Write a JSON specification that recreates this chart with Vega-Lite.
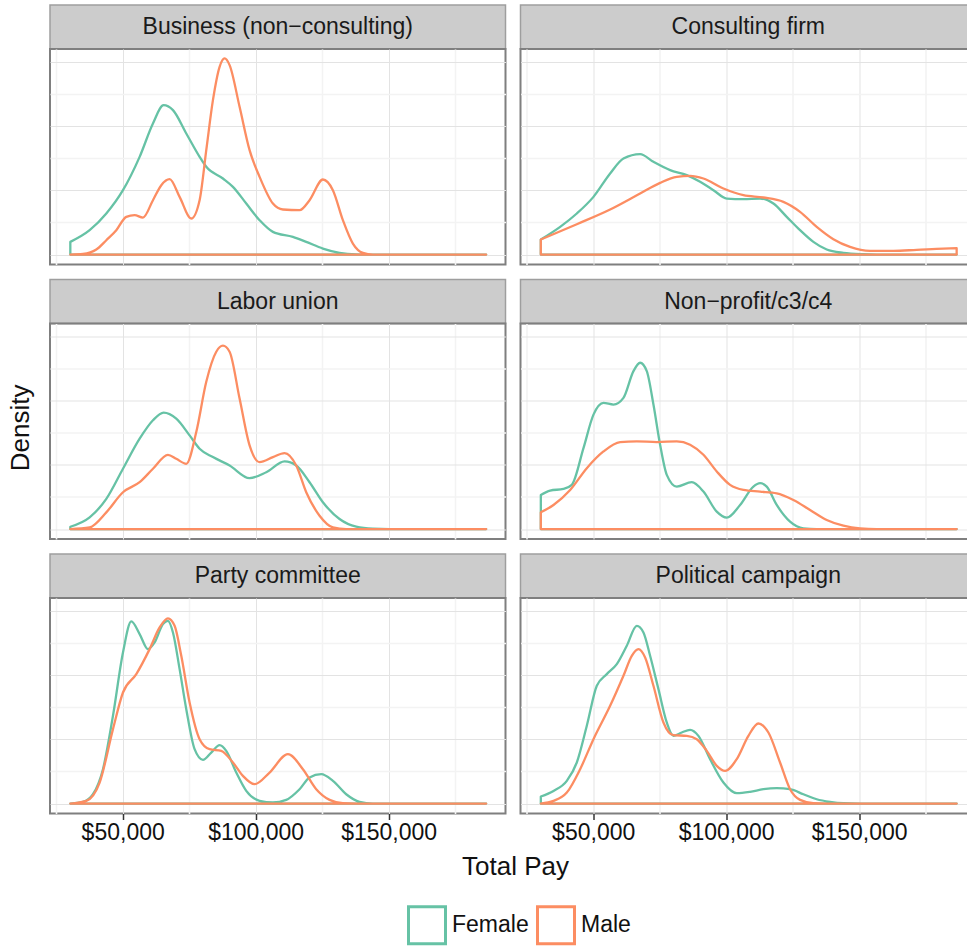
{
  "$schema": "https://vega.github.io/schema/vega-lite/v6.json",
  "padding": {"left": 7, "top": 4, "right": 0, "bottom": 0},
  "config": {
    "font": "Liberation Sans",
    "view": {"stroke": null},
    "title": {"font": "Liberation Sans", "fontWeight": "normal", "fontSize": 26, "color": "#111111"}
  },
  "datasets": {
    "panels": [
      {"org": "Business (non−consulting)"},
      {"org": "Consulting firm"},
      {"org": "Labor union"},
      {"org": "Non−profit/c3/c4"},
      {"org": "Party committee"},
      {"org": "Political campaign"}
    ],
    "curves": [
      {"org": "Business (non−consulting)", "sex": "Female", "pay": 30312, "density": 0.197},
      {"org": "Business (non−consulting)", "sex": "Female", "pay": 37580, "density": 0.379},
      {"org": "Business (non−consulting)", "sex": "Female", "pay": 43844, "density": 0.639},
      {"org": "Business (non−consulting)", "sex": "Female", "pay": 50110, "density": 1.002},
      {"org": "Business (non−consulting)", "sex": "Female", "pay": 56374, "density": 1.521},
      {"org": "Business (non−consulting)", "sex": "Female", "pay": 61386, "density": 2.040},
      {"org": "Business (non−consulting)", "sex": "Female", "pay": 65396, "density": 2.326},
      {"org": "Business (non−consulting)", "sex": "Female", "pay": 68904, "density": 2.248},
      {"org": "Business (non−consulting)", "sex": "Female", "pay": 73916, "density": 1.885},
      {"org": "Business (non−consulting)", "sex": "Female", "pay": 78928, "density": 1.521},
      {"org": "Business (non−consulting)", "sex": "Female", "pay": 81434, "density": 1.366},
      {"org": "Business (non−consulting)", "sex": "Female", "pay": 87700, "density": 1.184},
      {"org": "Business (non−consulting)", "sex": "Female", "pay": 91459, "density": 1.054},
      {"org": "Business (non−consulting)", "sex": "Female", "pay": 96471, "density": 0.794},
      {"org": "Business (non−consulting)", "sex": "Female", "pay": 101483, "density": 0.535},
      {"org": "Business (non−consulting)", "sex": "Female", "pay": 106495, "density": 0.353},
      {"org": "Business (non−consulting)", "sex": "Female", "pay": 114013, "density": 0.275},
      {"org": "Business (non−consulting)", "sex": "Female", "pay": 119025, "density": 0.197},
      {"org": "Business (non−consulting)", "sex": "Female", "pay": 125290, "density": 0.093},
      {"org": "Business (non−consulting)", "sex": "Female", "pay": 131555, "density": 0.026},
      {"org": "Business (non−consulting)", "sex": "Female", "pay": 137820, "density": 0.003},
      {"org": "Business (non−consulting)", "sex": "Female", "pay": 144085, "density": 0},
      {"org": "Business (non−consulting)", "sex": "Female", "pay": 186687, "density": 0},

      {"org": "Business (non−consulting)", "sex": "Male", "pay": 30312, "density": 0},
      {"org": "Business (non−consulting)", "sex": "Male", "pay": 35073, "density": 0.01},
      {"org": "Business (non−consulting)", "sex": "Male", "pay": 40085, "density": 0.078},
      {"org": "Business (non−consulting)", "sex": "Male", "pay": 43844, "density": 0.223},
      {"org": "Business (non−consulting)", "sex": "Male", "pay": 47603, "density": 0.379},
      {"org": "Business (non−consulting)", "sex": "Male", "pay": 51362, "density": 0.587},
      {"org": "Business (non−consulting)", "sex": "Male", "pay": 54495, "density": 0.613},
      {"org": "Business (non−consulting)", "sex": "Male", "pay": 57627, "density": 0.576},
      {"org": "Business (non−consulting)", "sex": "Male", "pay": 61386, "density": 0.846},
      {"org": "Business (non−consulting)", "sex": "Male", "pay": 64519, "density": 1.080},
      {"org": "Business (non−consulting)", "sex": "Male", "pay": 67651, "density": 1.173},
      {"org": "Business (non−consulting)", "sex": "Male", "pay": 71410, "density": 0.898},
      {"org": "Business (non−consulting)", "sex": "Male", "pay": 75796, "density": 0.561},
      {"org": "Business (non−consulting)", "sex": "Male", "pay": 78928, "density": 0.846},
      {"org": "Business (non−consulting)", "sex": "Male", "pay": 81434, "density": 1.625},
      {"org": "Business (non−consulting)", "sex": "Male", "pay": 83940, "density": 2.404},
      {"org": "Business (non−consulting)", "sex": "Male", "pay": 86446, "density": 2.923},
      {"org": "Business (non−consulting)", "sex": "Male", "pay": 88325, "density": 3.053},
      {"org": "Business (non−consulting)", "sex": "Male", "pay": 90205, "density": 2.949},
      {"org": "Business (non−consulting)", "sex": "Male", "pay": 93964, "density": 2.300},
      {"org": "Business (non−consulting)", "sex": "Male", "pay": 97723, "density": 1.625},
      {"org": "Business (non−consulting)", "sex": "Male", "pay": 101483, "density": 1.210},
      {"org": "Business (non−consulting)", "sex": "Male", "pay": 106495, "density": 0.794},
      {"org": "Business (non−consulting)", "sex": "Male", "pay": 110254, "density": 0.701},
      {"org": "Business (non−consulting)", "sex": "Male", "pay": 116519, "density": 0.691},
      {"org": "Business (non−consulting)", "sex": "Male", "pay": 120278, "density": 0.846},
      {"org": "Business (non−consulting)", "sex": "Male", "pay": 125290, "density": 1.168},
      {"org": "Business (non−consulting)", "sex": "Male", "pay": 129049, "density": 1.002},
      {"org": "Business (non−consulting)", "sex": "Male", "pay": 132808, "density": 0.535},
      {"org": "Business (non−consulting)", "sex": "Male", "pay": 136567, "density": 0.171},
      {"org": "Business (non−consulting)", "sex": "Male", "pay": 140326, "density": 0.026},
      {"org": "Business (non−consulting)", "sex": "Male", "pay": 144085, "density": 0},
      {"org": "Business (non−consulting)", "sex": "Male", "pay": 186687, "density": 0},

      {"org": "Consulting firm", "sex": "Female", "pay": 30312, "density": 0.234},
      {"org": "Consulting firm", "sex": "Female", "pay": 37580, "density": 0.431},
      {"org": "Consulting firm", "sex": "Female", "pay": 43844, "density": 0.639},
      {"org": "Consulting firm", "sex": "Female", "pay": 50110, "density": 0.898},
      {"org": "Consulting firm", "sex": "Female", "pay": 56374, "density": 1.262},
      {"org": "Consulting firm", "sex": "Female", "pay": 61386, "density": 1.495},
      {"org": "Consulting firm", "sex": "Female", "pay": 67651, "density": 1.563},
      {"org": "Consulting firm", "sex": "Female", "pay": 72663, "density": 1.443},
      {"org": "Consulting firm", "sex": "Female", "pay": 78928, "density": 1.314},
      {"org": "Consulting firm", "sex": "Female", "pay": 85193, "density": 1.236},
      {"org": "Consulting firm", "sex": "Female", "pay": 90205, "density": 1.132},
      {"org": "Consulting firm", "sex": "Female", "pay": 95217, "density": 1.002},
      {"org": "Consulting firm", "sex": "Female", "pay": 100229, "density": 0.872},
      {"org": "Consulting firm", "sex": "Female", "pay": 106495, "density": 0.862},
      {"org": "Consulting firm", "sex": "Female", "pay": 112760, "density": 0.872},
      {"org": "Consulting firm", "sex": "Female", "pay": 117772, "density": 0.794},
      {"org": "Consulting firm", "sex": "Female", "pay": 122784, "density": 0.587},
      {"org": "Consulting firm", "sex": "Female", "pay": 127796, "density": 0.379},
      {"org": "Consulting firm", "sex": "Female", "pay": 132808, "density": 0.197},
      {"org": "Consulting firm", "sex": "Female", "pay": 137820, "density": 0.078},
      {"org": "Consulting firm", "sex": "Female", "pay": 144085, "density": 0.026},
      {"org": "Consulting firm", "sex": "Female", "pay": 151603, "density": 0.005},
      {"org": "Consulting firm", "sex": "Female", "pay": 156616, "density": 0},
      {"org": "Consulting firm", "sex": "Female", "pay": 186687, "density": 0},

      {"org": "Consulting firm", "sex": "Male", "pay": 30312, "density": 0.234},
      {"org": "Consulting firm", "sex": "Male", "pay": 43844, "density": 0.472},
      {"org": "Consulting firm", "sex": "Male", "pay": 56374, "density": 0.701},
      {"org": "Consulting firm", "sex": "Male", "pay": 67651, "density": 0.950},
      {"org": "Consulting firm", "sex": "Male", "pay": 75169, "density": 1.116},
      {"org": "Consulting firm", "sex": "Male", "pay": 81434, "density": 1.210},
      {"org": "Consulting firm", "sex": "Male", "pay": 86446, "density": 1.225},
      {"org": "Consulting firm", "sex": "Male", "pay": 91459, "density": 1.184},
      {"org": "Consulting firm", "sex": "Male", "pay": 98977, "density": 1.028},
      {"org": "Consulting firm", "sex": "Male", "pay": 106495, "density": 0.924},
      {"org": "Consulting firm", "sex": "Male", "pay": 114013, "density": 0.888},
      {"org": "Consulting firm", "sex": "Male", "pay": 121531, "density": 0.820},
      {"org": "Consulting firm", "sex": "Male", "pay": 127796, "density": 0.665},
      {"org": "Consulting firm", "sex": "Male", "pay": 134061, "density": 0.431},
      {"org": "Consulting firm", "sex": "Male", "pay": 140326, "density": 0.239},
      {"org": "Consulting firm", "sex": "Male", "pay": 146591, "density": 0.119},
      {"org": "Consulting firm", "sex": "Male", "pay": 154109, "density": 0.057},
      {"org": "Consulting firm", "sex": "Male", "pay": 162880, "density": 0.057},
      {"org": "Consulting firm", "sex": "Male", "pay": 171651, "density": 0.073},
      {"org": "Consulting firm", "sex": "Male", "pay": 181675, "density": 0.093},
      {"org": "Consulting firm", "sex": "Male", "pay": 186687, "density": 0.099},

      {"org": "Labor union", "sex": "Female", "pay": 30312, "density": 0.036},
      {"org": "Labor union", "sex": "Female", "pay": 37580, "density": 0.182},
      {"org": "Labor union", "sex": "Female", "pay": 43844, "density": 0.469},
      {"org": "Labor union", "sex": "Female", "pay": 50110, "density": 0.938},
      {"org": "Labor union", "sex": "Female", "pay": 56374, "density": 1.406},
      {"org": "Labor union", "sex": "Female", "pay": 61386, "density": 1.693},
      {"org": "Labor union", "sex": "Female", "pay": 65396, "density": 1.813},
      {"org": "Labor union", "sex": "Female", "pay": 70157, "density": 1.719},
      {"org": "Labor union", "sex": "Female", "pay": 75169, "density": 1.458},
      {"org": "Labor union", "sex": "Female", "pay": 78928, "density": 1.250},
      {"org": "Labor union", "sex": "Female", "pay": 83940, "density": 1.120},
      {"org": "Labor union", "sex": "Female", "pay": 90205, "density": 0.990},
      {"org": "Labor union", "sex": "Female", "pay": 97723, "density": 0.792},
      {"org": "Labor union", "sex": "Female", "pay": 103988, "density": 0.885},
      {"org": "Labor union", "sex": "Female", "pay": 110880, "density": 1.052},
      {"org": "Labor union", "sex": "Female", "pay": 115265, "density": 0.990},
      {"org": "Labor union", "sex": "Female", "pay": 120278, "density": 0.729},
      {"org": "Labor union", "sex": "Female", "pay": 125290, "density": 0.417},
      {"org": "Labor union", "sex": "Female", "pay": 131555, "density": 0.156},
      {"org": "Labor union", "sex": "Female", "pay": 137820, "density": 0.036},
      {"org": "Labor union", "sex": "Female", "pay": 144085, "density": 0.005},
      {"org": "Labor union", "sex": "Female", "pay": 150350, "density": 0},
      {"org": "Labor union", "sex": "Female", "pay": 186687, "density": 0},

      {"org": "Labor union", "sex": "Male", "pay": 30312, "density": 0},
      {"org": "Labor union", "sex": "Male", "pay": 37580, "density": 0.026},
      {"org": "Labor union", "sex": "Male", "pay": 43844, "density": 0.260},
      {"org": "Labor union", "sex": "Male", "pay": 50110, "density": 0.573},
      {"org": "Labor union", "sex": "Male", "pay": 56374, "density": 0.729},
      {"org": "Labor union", "sex": "Male", "pay": 61386, "density": 0.938},
      {"org": "Labor union", "sex": "Male", "pay": 67025, "density": 1.156},
      {"org": "Labor union", "sex": "Male", "pay": 70157, "density": 1.094},
      {"org": "Labor union", "sex": "Male", "pay": 73916, "density": 1.016},
      {"org": "Labor union", "sex": "Male", "pay": 77675, "density": 1.510},
      {"org": "Labor union", "sex": "Male", "pay": 81434, "density": 2.292},
      {"org": "Labor union", "sex": "Male", "pay": 85193, "density": 2.760},
      {"org": "Labor union", "sex": "Male", "pay": 87700, "density": 2.854},
      {"org": "Labor union", "sex": "Male", "pay": 90205, "density": 2.760},
      {"org": "Labor union", "sex": "Male", "pay": 93964, "density": 2.031},
      {"org": "Labor union", "sex": "Male", "pay": 97723, "density": 1.302},
      {"org": "Labor union", "sex": "Male", "pay": 101483, "density": 1.042},
      {"org": "Labor union", "sex": "Male", "pay": 106495, "density": 1.120},
      {"org": "Labor union", "sex": "Male", "pay": 110880, "density": 1.182},
      {"org": "Labor union", "sex": "Male", "pay": 115265, "density": 0.990},
      {"org": "Labor union", "sex": "Male", "pay": 119025, "density": 0.573},
      {"org": "Labor union", "sex": "Male", "pay": 124037, "density": 0.208},
      {"org": "Labor union", "sex": "Male", "pay": 129049, "density": 0.026},
      {"org": "Labor union", "sex": "Male", "pay": 134061, "density": 0},
      {"org": "Labor union", "sex": "Male", "pay": 186687, "density": 0},

      {"org": "Non−profit/c3/c4", "sex": "Female", "pay": 30312, "density": 0.531},
      {"org": "Non−profit/c3/c4", "sex": "Female", "pay": 33820, "density": 0.599},
      {"org": "Non−profit/c3/c4", "sex": "Female", "pay": 38832, "density": 0.625},
      {"org": "Non−profit/c3/c4", "sex": "Female", "pay": 41965, "density": 0.688},
      {"org": "Non−profit/c3/c4", "sex": "Female", "pay": 46350, "density": 1.260},
      {"org": "Non−profit/c3/c4", "sex": "Female", "pay": 50110, "density": 1.781},
      {"org": "Non−profit/c3/c4", "sex": "Female", "pay": 53869, "density": 1.964},
      {"org": "Non−profit/c3/c4", "sex": "Female", "pay": 57627, "density": 1.938},
      {"org": "Non−profit/c3/c4", "sex": "Female", "pay": 61386, "density": 2.042},
      {"org": "Non−profit/c3/c4", "sex": "Female", "pay": 65145, "density": 2.458},
      {"org": "Non−profit/c3/c4", "sex": "Female", "pay": 67651, "density": 2.589},
      {"org": "Non−profit/c3/c4", "sex": "Female", "pay": 70157, "density": 2.458},
      {"org": "Non−profit/c3/c4", "sex": "Female", "pay": 72663, "density": 1.938},
      {"org": "Non−profit/c3/c4", "sex": "Female", "pay": 75169, "density": 1.313},
      {"org": "Non−profit/c3/c4", "sex": "Female", "pay": 77675, "density": 0.844},
      {"org": "Non−profit/c3/c4", "sex": "Female", "pay": 81434, "density": 0.661},
      {"org": "Non−profit/c3/c4", "sex": "Female", "pay": 87073, "density": 0.729},
      {"org": "Non−profit/c3/c4", "sex": "Female", "pay": 91459, "density": 0.583},
      {"org": "Non−profit/c3/c4", "sex": "Female", "pay": 96471, "density": 0.271},
      {"org": "Non−profit/c3/c4", "sex": "Female", "pay": 100229, "density": 0.177},
      {"org": "Non−profit/c3/c4", "sex": "Female", "pay": 105241, "density": 0.375},
      {"org": "Non−profit/c3/c4", "sex": "Female", "pay": 110254, "density": 0.661},
      {"org": "Non−profit/c3/c4", "sex": "Female", "pay": 112760, "density": 0.714},
      {"org": "Non−profit/c3/c4", "sex": "Female", "pay": 115265, "density": 0.661},
      {"org": "Non−profit/c3/c4", "sex": "Female", "pay": 119025, "density": 0.375},
      {"org": "Non−profit/c3/c4", "sex": "Female", "pay": 124037, "density": 0.115},
      {"org": "Non−profit/c3/c4", "sex": "Female", "pay": 129049, "density": 0.010},
      {"org": "Non−profit/c3/c4", "sex": "Female", "pay": 134061, "density": 0},
      {"org": "Non−profit/c3/c4", "sex": "Female", "pay": 186687, "density": 0},

      {"org": "Non−profit/c3/c4", "sex": "Male", "pay": 30312, "density": 0.260},
      {"org": "Non−profit/c3/c4", "sex": "Male", "pay": 35073, "density": 0.375},
      {"org": "Non−profit/c3/c4", "sex": "Male", "pay": 41339, "density": 0.609},
      {"org": "Non−profit/c3/c4", "sex": "Male", "pay": 47603, "density": 0.948},
      {"org": "Non−profit/c3/c4", "sex": "Male", "pay": 53869, "density": 1.208},
      {"org": "Non−profit/c3/c4", "sex": "Male", "pay": 60134, "density": 1.354},
      {"org": "Non−profit/c3/c4", "sex": "Male", "pay": 66399, "density": 1.365},
      {"org": "Non−profit/c3/c4", "sex": "Male", "pay": 73916, "density": 1.354},
      {"org": "Non−profit/c3/c4", "sex": "Male", "pay": 81434, "density": 1.365},
      {"org": "Non−profit/c3/c4", "sex": "Male", "pay": 86446, "density": 1.313},
      {"org": "Non−profit/c3/c4", "sex": "Male", "pay": 91459, "density": 1.156},
      {"org": "Non−profit/c3/c4", "sex": "Male", "pay": 96471, "density": 0.896},
      {"org": "Non−profit/c3/c4", "sex": "Male", "pay": 101483, "density": 0.688},
      {"org": "Non−profit/c3/c4", "sex": "Male", "pay": 106495, "density": 0.609},
      {"org": "Non−profit/c3/c4", "sex": "Male", "pay": 112760, "density": 0.583},
      {"org": "Non−profit/c3/c4", "sex": "Male", "pay": 119025, "density": 0.557},
      {"org": "Non−profit/c3/c4", "sex": "Male", "pay": 125290, "density": 0.453},
      {"org": "Non−profit/c3/c4", "sex": "Male", "pay": 131555, "density": 0.297},
      {"org": "Non−profit/c3/c4", "sex": "Male", "pay": 137820, "density": 0.141},
      {"org": "Non−profit/c3/c4", "sex": "Male", "pay": 144085, "density": 0.052},
      {"org": "Non−profit/c3/c4", "sex": "Male", "pay": 150350, "density": 0.010},
      {"org": "Non−profit/c3/c4", "sex": "Male", "pay": 156616, "density": 0},
      {"org": "Non−profit/c3/c4", "sex": "Male", "pay": 186687, "density": 0},

      {"org": "Party committee", "sex": "Female", "pay": 30312, "density": 0},
      {"org": "Party committee", "sex": "Female", "pay": 35073, "density": 0.026},
      {"org": "Party committee", "sex": "Female", "pay": 38832, "density": 0.145},
      {"org": "Party committee", "sex": "Female", "pay": 42591, "density": 0.535},
      {"org": "Party committee", "sex": "Female", "pay": 46350, "density": 1.366},
      {"org": "Party committee", "sex": "Female", "pay": 50110, "density": 2.352},
      {"org": "Party committee", "sex": "Female", "pay": 53242, "density": 2.835},
      {"org": "Party committee", "sex": "Female", "pay": 56374, "density": 2.638},
      {"org": "Party committee", "sex": "Female", "pay": 59507, "density": 2.404},
      {"org": "Party committee", "sex": "Female", "pay": 62013, "density": 2.508},
      {"org": "Party committee", "sex": "Female", "pay": 65145, "density": 2.793},
      {"org": "Party committee", "sex": "Female", "pay": 67025, "density": 2.845},
      {"org": "Party committee", "sex": "Female", "pay": 68904, "density": 2.664},
      {"org": "Party committee", "sex": "Female", "pay": 71410, "density": 2.092},
      {"org": "Party committee", "sex": "Female", "pay": 73916, "density": 1.469},
      {"org": "Party committee", "sex": "Female", "pay": 77048, "density": 0.846},
      {"org": "Party committee", "sex": "Female", "pay": 80180, "density": 0.680},
      {"org": "Party committee", "sex": "Female", "pay": 83313, "density": 0.794},
      {"org": "Party committee", "sex": "Female", "pay": 86446, "density": 0.909},
      {"org": "Party committee", "sex": "Female", "pay": 88951, "density": 0.820},
      {"org": "Party committee", "sex": "Female", "pay": 92710, "density": 0.483},
      {"org": "Party committee", "sex": "Female", "pay": 96471, "density": 0.197},
      {"org": "Party committee", "sex": "Female", "pay": 101483, "density": 0.042},
      {"org": "Party committee", "sex": "Female", "pay": 106495, "density": 0.016},
      {"org": "Party committee", "sex": "Female", "pay": 111507, "density": 0.057},
      {"org": "Party committee", "sex": "Female", "pay": 116519, "density": 0.223},
      {"org": "Party committee", "sex": "Female", "pay": 120278, "density": 0.405},
      {"org": "Party committee", "sex": "Female", "pay": 124663, "density": 0.457},
      {"org": "Party committee", "sex": "Female", "pay": 129049, "density": 0.353},
      {"org": "Party committee", "sex": "Female", "pay": 134061, "density": 0.145},
      {"org": "Party committee", "sex": "Female", "pay": 139073, "density": 0.026},
      {"org": "Party committee", "sex": "Female", "pay": 144085, "density": 0},
      {"org": "Party committee", "sex": "Female", "pay": 186687, "density": 0},

      {"org": "Party committee", "sex": "Male", "pay": 30312, "density": 0},
      {"org": "Party committee", "sex": "Male", "pay": 36326, "density": 0.042},
      {"org": "Party committee", "sex": "Male", "pay": 41339, "density": 0.327},
      {"org": "Party committee", "sex": "Male", "pay": 46350, "density": 1.158},
      {"org": "Party committee", "sex": "Male", "pay": 50110, "density": 1.729},
      {"org": "Party committee", "sex": "Male", "pay": 55122, "density": 2.015},
      {"org": "Party committee", "sex": "Male", "pay": 60134, "density": 2.404},
      {"org": "Party committee", "sex": "Male", "pay": 63893, "density": 2.741},
      {"org": "Party committee", "sex": "Male", "pay": 67025, "density": 2.882},
      {"org": "Party committee", "sex": "Male", "pay": 69531, "density": 2.767},
      {"org": "Party committee", "sex": "Male", "pay": 72037, "density": 2.300},
      {"org": "Party committee", "sex": "Male", "pay": 75169, "density": 1.573},
      {"org": "Party committee", "sex": "Male", "pay": 78928, "density": 1.002},
      {"org": "Party committee", "sex": "Male", "pay": 82687, "density": 0.846},
      {"org": "Party committee", "sex": "Male", "pay": 87073, "density": 0.820},
      {"org": "Party committee", "sex": "Male", "pay": 91459, "density": 0.639},
      {"org": "Party committee", "sex": "Male", "pay": 95217, "density": 0.431},
      {"org": "Party committee", "sex": "Male", "pay": 99603, "density": 0.301},
      {"org": "Party committee", "sex": "Male", "pay": 105241, "density": 0.483},
      {"org": "Party committee", "sex": "Male", "pay": 112133, "density": 0.768},
      {"org": "Party committee", "sex": "Male", "pay": 117772, "density": 0.535},
      {"org": "Party committee", "sex": "Male", "pay": 122784, "density": 0.223},
      {"org": "Party committee", "sex": "Male", "pay": 127796, "density": 0.057},
      {"org": "Party committee", "sex": "Male", "pay": 132808, "density": 0.005},
      {"org": "Party committee", "sex": "Male", "pay": 137820, "density": 0},
      {"org": "Party committee", "sex": "Male", "pay": 186687, "density": 0},

      {"org": "Political campaign", "sex": "Female", "pay": 30312, "density": 0.109},
      {"org": "Political campaign", "sex": "Female", "pay": 35073, "density": 0.197},
      {"org": "Political campaign", "sex": "Female", "pay": 40085, "density": 0.353},
      {"org": "Political campaign", "sex": "Female", "pay": 43844, "density": 0.639},
      {"org": "Political campaign", "sex": "Female", "pay": 47603, "density": 1.210},
      {"org": "Political campaign", "sex": "Female", "pay": 51362, "density": 1.833},
      {"org": "Political campaign", "sex": "Female", "pay": 55122, "density": 2.015},
      {"org": "Political campaign", "sex": "Female", "pay": 58881, "density": 2.170},
      {"org": "Political campaign", "sex": "Female", "pay": 62640, "density": 2.456},
      {"org": "Political campaign", "sex": "Female", "pay": 66399, "density": 2.767},
      {"org": "Political campaign", "sex": "Female", "pay": 68904, "density": 2.664},
      {"org": "Political campaign", "sex": "Female", "pay": 71410, "density": 2.300},
      {"org": "Political campaign", "sex": "Female", "pay": 74543, "density": 1.781},
      {"org": "Political campaign", "sex": "Female", "pay": 77675, "density": 1.262},
      {"org": "Political campaign", "sex": "Female", "pay": 80180, "density": 1.054},
      {"org": "Political campaign", "sex": "Female", "pay": 83313, "density": 1.106},
      {"org": "Political campaign", "sex": "Female", "pay": 86446, "density": 1.147},
      {"org": "Political campaign", "sex": "Female", "pay": 89578, "density": 1.054},
      {"org": "Political campaign", "sex": "Female", "pay": 93964, "density": 0.691},
      {"org": "Political campaign", "sex": "Female", "pay": 98977, "density": 0.327},
      {"org": "Political campaign", "sex": "Female", "pay": 103988, "density": 0.161},
      {"org": "Political campaign", "sex": "Female", "pay": 109000, "density": 0.182},
      {"org": "Political campaign", "sex": "Female", "pay": 114013, "density": 0.223},
      {"org": "Political campaign", "sex": "Female", "pay": 119025, "density": 0.239},
      {"org": "Political campaign", "sex": "Female", "pay": 124037, "density": 0.223},
      {"org": "Political campaign", "sex": "Female", "pay": 129049, "density": 0.145},
      {"org": "Political campaign", "sex": "Female", "pay": 134061, "density": 0.067},
      {"org": "Political campaign", "sex": "Female", "pay": 139073, "density": 0.026},
      {"org": "Political campaign", "sex": "Female", "pay": 144085, "density": 0.005},
      {"org": "Political campaign", "sex": "Female", "pay": 150350, "density": 0},
      {"org": "Political campaign", "sex": "Female", "pay": 186687, "density": 0},

      {"org": "Political campaign", "sex": "Male", "pay": 30312, "density": 0},
      {"org": "Political campaign", "sex": "Male", "pay": 35073, "density": 0.042},
      {"org": "Political campaign", "sex": "Male", "pay": 40085, "density": 0.171},
      {"org": "Political campaign", "sex": "Male", "pay": 45097, "density": 0.535},
      {"org": "Political campaign", "sex": "Male", "pay": 50110, "density": 1.002},
      {"org": "Political campaign", "sex": "Male", "pay": 56374, "density": 1.521},
      {"org": "Political campaign", "sex": "Male", "pay": 61386, "density": 1.989},
      {"org": "Political campaign", "sex": "Male", "pay": 64519, "density": 2.300},
      {"org": "Political campaign", "sex": "Male", "pay": 67025, "density": 2.404},
      {"org": "Political campaign", "sex": "Male", "pay": 69531, "density": 2.274},
      {"org": "Political campaign", "sex": "Male", "pay": 72663, "density": 1.833},
      {"org": "Political campaign", "sex": "Male", "pay": 76422, "density": 1.262},
      {"org": "Political campaign", "sex": "Male", "pay": 80180, "density": 1.064},
      {"org": "Political campaign", "sex": "Male", "pay": 85193, "density": 1.054},
      {"org": "Political campaign", "sex": "Male", "pay": 88951, "density": 1.002},
      {"org": "Political campaign", "sex": "Male", "pay": 92710, "density": 0.820},
      {"org": "Political campaign", "sex": "Male", "pay": 96471, "density": 0.587},
      {"org": "Political campaign", "sex": "Male", "pay": 99603, "density": 0.509},
      {"org": "Political campaign", "sex": "Male", "pay": 103988, "density": 0.691},
      {"org": "Political campaign", "sex": "Male", "pay": 108374, "density": 1.054},
      {"org": "Political campaign", "sex": "Male", "pay": 112133, "density": 1.246},
      {"org": "Political campaign", "sex": "Male", "pay": 115892, "density": 1.106},
      {"org": "Political campaign", "sex": "Male", "pay": 120278, "density": 0.639},
      {"org": "Political campaign", "sex": "Male", "pay": 124037, "density": 0.223},
      {"org": "Political campaign", "sex": "Male", "pay": 127796, "density": 0.057},
      {"org": "Political campaign", "sex": "Male", "pay": 132808, "density": 0.005},
      {"org": "Political campaign", "sex": "Male", "pay": 137820, "density": 0},
      {"org": "Political campaign", "sex": "Male", "pay": 186687, "density": 0}
    ]
  },
  "vconcat": [
    {
      "title": {"text": "Total Pay", "orient": "bottom", "anchor": "middle", "offset": 8, "dx": 23},
      "vconcat": [
        {
          "title": {"text": "Density", "orient": "left", "anchor": "middle", "offset": 15, "dx": -3},
          "spacing": 12.5,
          "vconcat": [
            {
              "spacing": 12.5,
              "hconcat": [
                {
                  "spacing": 0, "bounds": "flush",
                  "vconcat": [
                    {"width": 455.5, "height": 44, "view": {"fill": "#cccccc", "stroke": "#9e9e9e", "strokeWidth": 1.5}, "data": {"name": "panels"}, "transform": [{"filter": "datum.org === 'Business (non−consulting)'"}], "mark": {"type": "text", "fontSize": 23, "color": "#1a1a1a", "align": "center", "baseline": "middle"}, "encoding": {"text": {"field": "org", "type": "nominal"}}},
                    {"width": 455.5, "height": 215.5, "view": {"stroke": "#7f7f7f", "strokeWidth": 2}, "data": {"name": "curves"}, "transform": [{"filter": "datum.org === 'Business (non−consulting)'"}],
                     "mark": {"type": "area", "filled": false, "strokeWidth": 2.3, "interpolate": "monotone", "strokeJoin": "round"},
                     "encoding": {
                       "x": {"field": "pay", "type": "quantitative", "scale": {"domain": [22670, 193960], "nice": false, "zero": false}, "axis": {"values": [25000, 50000, 75000, 100000, 125000, 150000, 175000], "grid": true, "labels": false, "ticks": false, "domain": false, "title": null, "gridColor": {"condition": {"test": "datum.value % 50000 === 0", "value": "#e3e3e3"}, "value": "#f3f3f3"}, "gridWidth": {"condition": {"test": "datum.value % 50000 === 0", "value": 1}, "value": 1.6}}},
                       "y": {"field": "density", "type": "quantitative", "stack": null, "scale": {"domain": [-0.155, 3.2], "nice": false, "zero": false}, "axis": {"values": [0, 0.5, 1, 1.5, 2, 2.5, 3], "grid": true, "labels": false, "ticks": false, "domain": false, "title": null, "gridColor": {"condition": {"test": "datum.value % 1 === 0", "value": "#e3e3e3"}, "value": "#f3f3f3"}, "gridWidth": {"condition": {"test": "datum.value % 1 === 0", "value": 1}, "value": 1.6}}},
                       "y2": {"datum": 0},
                       "color": {"field": "sex", "type": "nominal", "scale": {"domain": ["Female", "Male"], "range": ["#66c2a5", "#fc8d62"]}, "legend": {"orient": "none", "legendX": 357, "legendY": 900, "direction": "horizontal", "title": null, "symbolType": "square", "symbolSize": 1369, "symbolStrokeWidth": 3, "symbolFillColor": "#ffffff", "labelFontSize": 23, "labelColor": "#111111", "labelOffset": 5, "columnPadding": 2}}
                     }}
                  ]
                },
                {
                  "spacing": 0, "bounds": "flush",
                  "vconcat": [
                    {"width": 455.5, "height": 44, "view": {"fill": "#cccccc", "stroke": "#9e9e9e", "strokeWidth": 1.5}, "data": {"name": "panels"}, "transform": [{"filter": "datum.org === 'Consulting firm'"}], "mark": {"type": "text", "fontSize": 23, "color": "#1a1a1a", "align": "center", "baseline": "middle"}, "encoding": {"text": {"field": "org", "type": "nominal"}}},
                    {"width": 455.5, "height": 215.5, "view": {"stroke": "#7f7f7f", "strokeWidth": 2}, "data": {"name": "curves"}, "transform": [{"filter": "datum.org === 'Consulting firm'"}],
                     "mark": {"type": "area", "filled": false, "strokeWidth": 2.3, "interpolate": "monotone", "strokeJoin": "round"},
                     "encoding": {
                       "x": {"field": "pay", "type": "quantitative", "scale": {"domain": [22670, 193960], "nice": false, "zero": false}, "axis": {"values": [25000, 50000, 75000, 100000, 125000, 150000, 175000], "grid": true, "labels": false, "ticks": false, "domain": false, "title": null, "gridColor": {"condition": {"test": "datum.value % 50000 === 0", "value": "#e3e3e3"}, "value": "#f3f3f3"}, "gridWidth": {"condition": {"test": "datum.value % 50000 === 0", "value": 1}, "value": 1.6}}},
                       "y": {"field": "density", "type": "quantitative", "stack": null, "scale": {"domain": [-0.155, 3.2], "nice": false, "zero": false}, "axis": {"values": [0, 0.5, 1, 1.5, 2, 2.5, 3], "grid": true, "labels": false, "ticks": false, "domain": false, "title": null, "gridColor": {"condition": {"test": "datum.value % 1 === 0", "value": "#e3e3e3"}, "value": "#f3f3f3"}, "gridWidth": {"condition": {"test": "datum.value % 1 === 0", "value": 1}, "value": 1.6}}},
                       "y2": {"datum": 0},
                       "color": {"field": "sex", "type": "nominal", "scale": {"domain": ["Female", "Male"], "range": ["#66c2a5", "#fc8d62"]}, "legend": {"orient": "none", "legendX": 357, "legendY": 900, "direction": "horizontal", "title": null, "symbolType": "square", "symbolSize": 1369, "symbolStrokeWidth": 3, "symbolFillColor": "#ffffff", "labelFontSize": 23, "labelColor": "#111111", "labelOffset": 5, "columnPadding": 2}}
                     }}
                  ]
                }
              ]
            },
            {
              "spacing": 12.5,
              "hconcat": [
                {
                  "spacing": 0, "bounds": "flush",
                  "vconcat": [
                    {"width": 455.5, "height": 44, "view": {"fill": "#cccccc", "stroke": "#9e9e9e", "strokeWidth": 1.5}, "data": {"name": "panels"}, "transform": [{"filter": "datum.org === 'Labor union'"}], "mark": {"type": "text", "fontSize": 23, "color": "#1a1a1a", "align": "center", "baseline": "middle"}, "encoding": {"text": {"field": "org", "type": "nominal"}}},
                    {"width": 455.5, "height": 215.5, "view": {"stroke": "#7f7f7f", "strokeWidth": 2}, "data": {"name": "curves"}, "transform": [{"filter": "datum.org === 'Labor union'"}],
                     "mark": {"type": "area", "filled": false, "strokeWidth": 2.3, "interpolate": "monotone", "strokeJoin": "round"},
                     "encoding": {
                       "x": {"field": "pay", "type": "quantitative", "scale": {"domain": [22670, 193960], "nice": false, "zero": false}, "axis": {"values": [25000, 50000, 75000, 100000, 125000, 150000, 175000], "grid": true, "labels": false, "ticks": false, "domain": false, "title": null, "gridColor": {"condition": {"test": "datum.value % 50000 === 0", "value": "#e3e3e3"}, "value": "#f3f3f3"}, "gridWidth": {"condition": {"test": "datum.value % 50000 === 0", "value": 1}, "value": 1.6}}},
                       "y": {"field": "density", "type": "quantitative", "stack": null, "scale": {"domain": [-0.155, 3.2], "nice": false, "zero": false}, "axis": {"values": [0, 0.5, 1, 1.5, 2, 2.5, 3], "grid": true, "labels": false, "ticks": false, "domain": false, "title": null, "gridColor": {"condition": {"test": "datum.value % 1 === 0", "value": "#e3e3e3"}, "value": "#f3f3f3"}, "gridWidth": {"condition": {"test": "datum.value % 1 === 0", "value": 1}, "value": 1.6}}},
                       "y2": {"datum": 0},
                       "color": {"field": "sex", "type": "nominal", "scale": {"domain": ["Female", "Male"], "range": ["#66c2a5", "#fc8d62"]}, "legend": {"orient": "none", "legendX": 357, "legendY": 900, "direction": "horizontal", "title": null, "symbolType": "square", "symbolSize": 1369, "symbolStrokeWidth": 3, "symbolFillColor": "#ffffff", "labelFontSize": 23, "labelColor": "#111111", "labelOffset": 5, "columnPadding": 2}}
                     }}
                  ]
                },
                {
                  "spacing": 0, "bounds": "flush",
                  "vconcat": [
                    {"width": 455.5, "height": 44, "view": {"fill": "#cccccc", "stroke": "#9e9e9e", "strokeWidth": 1.5}, "data": {"name": "panels"}, "transform": [{"filter": "datum.org === 'Non−profit/c3/c4'"}], "mark": {"type": "text", "fontSize": 23, "color": "#1a1a1a", "align": "center", "baseline": "middle"}, "encoding": {"text": {"field": "org", "type": "nominal"}}},
                    {"width": 455.5, "height": 215.5, "view": {"stroke": "#7f7f7f", "strokeWidth": 2}, "data": {"name": "curves"}, "transform": [{"filter": "datum.org === 'Non−profit/c3/c4'"}],
                     "mark": {"type": "area", "filled": false, "strokeWidth": 2.3, "interpolate": "monotone", "strokeJoin": "round"},
                     "encoding": {
                       "x": {"field": "pay", "type": "quantitative", "scale": {"domain": [22670, 193960], "nice": false, "zero": false}, "axis": {"values": [25000, 50000, 75000, 100000, 125000, 150000, 175000], "grid": true, "labels": false, "ticks": false, "domain": false, "title": null, "gridColor": {"condition": {"test": "datum.value % 50000 === 0", "value": "#e3e3e3"}, "value": "#f3f3f3"}, "gridWidth": {"condition": {"test": "datum.value % 50000 === 0", "value": 1}, "value": 1.6}}},
                       "y": {"field": "density", "type": "quantitative", "stack": null, "scale": {"domain": [-0.155, 3.2], "nice": false, "zero": false}, "axis": {"values": [0, 0.5, 1, 1.5, 2, 2.5, 3], "grid": true, "labels": false, "ticks": false, "domain": false, "title": null, "gridColor": {"condition": {"test": "datum.value % 1 === 0", "value": "#e3e3e3"}, "value": "#f3f3f3"}, "gridWidth": {"condition": {"test": "datum.value % 1 === 0", "value": 1}, "value": 1.6}}},
                       "y2": {"datum": 0},
                       "color": {"field": "sex", "type": "nominal", "scale": {"domain": ["Female", "Male"], "range": ["#66c2a5", "#fc8d62"]}, "legend": {"orient": "none", "legendX": 357, "legendY": 900, "direction": "horizontal", "title": null, "symbolType": "square", "symbolSize": 1369, "symbolStrokeWidth": 3, "symbolFillColor": "#ffffff", "labelFontSize": 23, "labelColor": "#111111", "labelOffset": 5, "columnPadding": 2}}
                     }}
                  ]
                }
              ]
            },
            {
              "spacing": 12.5,
              "hconcat": [
                {
                  "spacing": 0, "bounds": "flush",
                  "vconcat": [
                    {"width": 455.5, "height": 44, "view": {"fill": "#cccccc", "stroke": "#9e9e9e", "strokeWidth": 1.5}, "data": {"name": "panels"}, "transform": [{"filter": "datum.org === 'Party committee'"}], "mark": {"type": "text", "fontSize": 23, "color": "#1a1a1a", "align": "center", "baseline": "middle"}, "encoding": {"text": {"field": "org", "type": "nominal"}}},
                    {"width": 455.5, "height": 215.5, "view": {"stroke": "#7f7f7f", "strokeWidth": 2}, "data": {"name": "curves"}, "transform": [{"filter": "datum.org === 'Party committee'"}],
                     "mark": {"type": "area", "filled": false, "strokeWidth": 2.3, "interpolate": "monotone", "strokeJoin": "round"},
                     "encoding": {
                       "x": {"field": "pay", "type": "quantitative", "scale": {"domain": [22670, 193960], "nice": false, "zero": false}, "axis": {"values": [25000, 50000, 75000, 100000, 125000, 150000, 175000], "grid": true, "domain": false, "title": null, "labelExpr": "datum.value % 50000 === 0 ? format(datum.value, '$,.0f') : ''", "labelFontSize": 23, "labelColor": "#111111", "labelPadding": 2, "labelOverlap": false, "labelFlush": false, "tickSize": 6, "tickWidth": 1.5, "tickColor": "#333333", "tickOpacity": {"condition": {"test": "datum.value % 50000 === 0", "value": 1}, "value": 0}, "gridColor": {"condition": {"test": "datum.value % 50000 === 0", "value": "#e3e3e3"}, "value": "#f3f3f3"}, "gridWidth": {"condition": {"test": "datum.value % 50000 === 0", "value": 1}, "value": 1.6}}},
                       "y": {"field": "density", "type": "quantitative", "stack": null, "scale": {"domain": [-0.155, 3.2], "nice": false, "zero": false}, "axis": {"values": [0, 0.5, 1, 1.5, 2, 2.5, 3], "grid": true, "labels": false, "ticks": false, "domain": false, "title": null, "gridColor": {"condition": {"test": "datum.value % 1 === 0", "value": "#e3e3e3"}, "value": "#f3f3f3"}, "gridWidth": {"condition": {"test": "datum.value % 1 === 0", "value": 1}, "value": 1.6}}},
                       "y2": {"datum": 0},
                       "color": {"field": "sex", "type": "nominal", "scale": {"domain": ["Female", "Male"], "range": ["#66c2a5", "#fc8d62"]}, "legend": {"orient": "none", "legendX": 357, "legendY": 900, "direction": "horizontal", "title": null, "symbolType": "square", "symbolSize": 1369, "symbolStrokeWidth": 3, "symbolFillColor": "#ffffff", "labelFontSize": 23, "labelColor": "#111111", "labelOffset": 5, "columnPadding": 2}}
                     }}
                  ]
                },
                {
                  "spacing": 0, "bounds": "flush",
                  "vconcat": [
                    {"width": 455.5, "height": 44, "view": {"fill": "#cccccc", "stroke": "#9e9e9e", "strokeWidth": 1.5}, "data": {"name": "panels"}, "transform": [{"filter": "datum.org === 'Political campaign'"}], "mark": {"type": "text", "fontSize": 23, "color": "#1a1a1a", "align": "center", "baseline": "middle"}, "encoding": {"text": {"field": "org", "type": "nominal"}}},
                    {"width": 455.5, "height": 215.5, "view": {"stroke": "#7f7f7f", "strokeWidth": 2}, "data": {"name": "curves"}, "transform": [{"filter": "datum.org === 'Political campaign'"}],
                     "mark": {"type": "area", "filled": false, "strokeWidth": 2.3, "interpolate": "monotone", "strokeJoin": "round"},
                     "encoding": {
                       "x": {"field": "pay", "type": "quantitative", "scale": {"domain": [22670, 193960], "nice": false, "zero": false}, "axis": {"values": [25000, 50000, 75000, 100000, 125000, 150000, 175000], "grid": true, "domain": false, "title": null, "labelExpr": "datum.value % 50000 === 0 ? format(datum.value, '$,.0f') : ''", "labelFontSize": 23, "labelColor": "#111111", "labelPadding": 2, "labelOverlap": false, "labelFlush": false, "tickSize": 6, "tickWidth": 1.5, "tickColor": "#333333", "tickOpacity": {"condition": {"test": "datum.value % 50000 === 0", "value": 1}, "value": 0}, "gridColor": {"condition": {"test": "datum.value % 50000 === 0", "value": "#e3e3e3"}, "value": "#f3f3f3"}, "gridWidth": {"condition": {"test": "datum.value % 50000 === 0", "value": 1}, "value": 1.6}}},
                       "y": {"field": "density", "type": "quantitative", "stack": null, "scale": {"domain": [-0.155, 3.2], "nice": false, "zero": false}, "axis": {"values": [0, 0.5, 1, 1.5, 2, 2.5, 3], "grid": true, "labels": false, "ticks": false, "domain": false, "title": null, "gridColor": {"condition": {"test": "datum.value % 1 === 0", "value": "#e3e3e3"}, "value": "#f3f3f3"}, "gridWidth": {"condition": {"test": "datum.value % 1 === 0", "value": 1}, "value": 1.6}}},
                       "y2": {"datum": 0},
                       "color": {"field": "sex", "type": "nominal", "scale": {"domain": ["Female", "Male"], "range": ["#66c2a5", "#fc8d62"]}, "legend": {"orient": "none", "legendX": 357, "legendY": 900, "direction": "horizontal", "title": null, "symbolType": "square", "symbolSize": 1369, "symbolStrokeWidth": 3, "symbolFillColor": "#ffffff", "labelFontSize": 23, "labelColor": "#111111", "labelOffset": 5, "columnPadding": 2}}
                     }}
                  ]
                }
              ]
            }
          ]
        }
      ]
    }
  ]
}
